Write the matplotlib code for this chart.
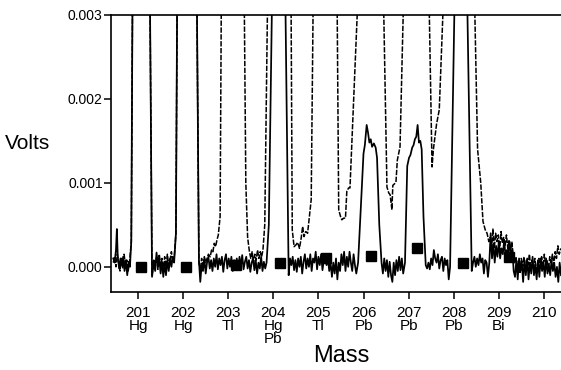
import matplotlib
matplotlib.use("Agg")
import matplotlib.pyplot as plt
import numpy as np

# ---- data (mass, volts x 1e-3) ----
solid_trace = [
    (200.45, 0.10), (200.48, 0.05), (200.51, 0.20), (200.53, 0.45), (200.55, 0.12), (200.58, -0.02),
    (200.61, 0.10), (200.64, 0.02), (200.67, 0.12), (200.70, -0.05), (200.73, 0.08), (200.76, -0.10),
    (200.79, 0.06), (200.82, 0.00),
    (200.85, 0.30), (200.88, 3.50), (201.26, 3.50), (201.31, -0.12),
    (201.35, 0.05), (201.38, -0.05), (201.41, 0.17), (201.44, 0.02), (201.47, 0.10), (201.50, -0.08),
    (201.53, 0.06), (201.56, -0.12), (201.59, 0.04), (201.62, -0.10), (201.65, 0.08), (201.68, -0.05),
    (201.71, 0.10), (201.74, 0.00), (201.77, 0.12), (201.80, 0.05),
    (201.84, 0.40), (201.87, 3.50), (202.30, 3.50), (202.35, 0.08),
    (202.38, -0.18), (202.41, 0.02), (202.44, -0.05), (202.47, 0.10), (202.50, -0.08), (202.53, 0.05),
    (202.56, 0.12), (202.59, -0.02), (202.62, 0.08), (202.65, -0.05), (202.68, 0.10), (202.71, 0.00),
    (202.74, 0.15), (202.77, -0.03), (202.80, 0.10), (202.83, 0.02), (202.86, 0.12), (202.89, -0.06),
    (202.92, 0.08), (202.95, 0.15), (202.98, -0.02), (203.01, 0.10), (203.04, 0.00), (203.07, 0.12),
    (203.10, -0.05), (203.13, 0.08), (203.16, 0.02), (203.19, 0.10), (203.22, -0.04), (203.25, 0.12),
    (203.28, 0.00), (203.31, 0.14), (203.34, -0.03), (203.37, 0.06), (203.40, 0.12), (203.43, -0.02),
    (203.46, 0.08), (203.49, -0.06), (203.52, 0.05), (203.55, 0.10), (203.58, -0.04), (203.61, 0.08),
    (203.64, -0.08), (203.67, 0.05), (203.70, -0.02), (203.73, 0.12), (203.76, -0.05), (203.79, 0.06),
    (203.82, -0.02), (203.85, 0.05),
    (203.90, 0.50), (203.98, 3.50), (204.26, 3.50), (204.34, -0.10),
    (204.37, 0.10), (204.40, 0.02), (204.43, 0.12), (204.46, -0.04), (204.49, 0.08), (204.52, -0.06),
    (204.55, 0.10), (204.58, 0.00), (204.61, 0.12), (204.64, -0.08), (204.67, 0.06), (204.70, 0.15),
    (204.73, -0.02), (204.76, 0.10), (204.79, 0.00), (204.82, 0.15), (204.85, -0.05), (204.88, 0.10),
    (204.91, 0.05), (204.94, 0.18), (204.97, -0.03), (205.00, 0.12), (205.03, 0.02), (205.06, 0.15),
    (205.09, -0.04), (205.12, 0.08), (205.15, 0.12), (205.18, 0.02), (205.21, 0.10), (205.24, -0.05),
    (205.27, 0.05), (205.30, -0.12), (205.33, 0.05), (205.36, -0.08), (205.39, 0.10), (205.42, -0.15),
    (205.45, 0.05), (205.48, -0.05), (205.51, 0.15), (205.54, 0.02), (205.57, 0.18), (205.60, -0.05),
    (205.63, 0.12), (205.66, 0.00), (205.69, 0.18), (205.72, 0.05), (205.75, -0.05), (205.78, 0.15),
    (205.81, 0.02), (205.84, -0.08),
    (205.88, 0.05), (205.95, 0.80), (206.00, 1.35), (206.03, 1.45), (206.07, 1.69), (206.10, 1.60),
    (206.13, 1.48), (206.16, 1.52), (206.19, 1.43), (206.23, 1.47), (206.27, 1.42), (206.30, 1.30),
    (206.35, 0.50), (206.40, 0.05),
    (206.43, -0.08), (206.46, 0.10), (206.49, -0.05), (206.52, 0.08), (206.55, -0.12), (206.58, 0.06),
    (206.61, -0.10), (206.64, -0.18), (206.67, 0.05), (206.70, -0.10), (206.73, 0.08), (206.76, -0.05),
    (206.79, 0.12), (206.82, -0.04), (206.85, 0.10), (206.88, -0.08), (206.92, 0.05),
    (206.97, 1.20), (207.01, 1.30), (207.04, 1.33), (207.08, 1.42), (207.11, 1.45), (207.14, 1.52),
    (207.17, 1.55), (207.20, 1.69), (207.23, 1.48), (207.26, 1.50), (207.29, 1.40), (207.33, 0.60),
    (207.38, 0.02),
    (207.41, -0.02), (207.44, 0.05), (207.47, -0.03), (207.50, 0.10), (207.53, 0.02), (207.56, 0.20),
    (207.59, 0.10), (207.62, 0.05), (207.65, 0.15), (207.68, -0.02), (207.71, 0.08), (207.74, 0.12),
    (207.77, -0.05), (207.80, 0.10), (207.83, 0.02), (207.86, 0.08), (207.89, -0.15), (207.92, 0.00),
    (208.03, 3.50), (208.29, 3.50), (208.40, -0.05),
    (208.43, 0.05), (208.46, 0.12), (208.49, 0.00), (208.52, 0.10), (208.55, 0.02), (208.58, 0.15),
    (208.61, 0.05), (208.64, 0.10), (208.67, -0.08), (208.70, 0.08), (208.73, 0.05), (208.76, -0.12),
    (208.79, 0.05), (208.82, 0.40), (208.85, 0.10), (208.88, 0.28), (208.91, 0.05), (208.94, 0.25),
    (208.97, 0.12), (209.00, 0.30), (209.03, 0.10), (209.06, 0.22), (209.09, 0.15), (209.12, 0.32),
    (209.15, 0.12), (209.18, 0.20), (209.21, 0.18), (209.24, 0.30), (209.27, 0.10), (209.30, 0.22),
    (209.33, -0.05), (209.36, -0.12), (209.39, 0.08), (209.42, -0.15), (209.45, 0.10), (209.48, -0.05),
    (209.51, 0.05), (209.54, -0.18), (209.57, 0.08), (209.60, -0.10), (209.63, 0.10), (209.66, -0.15),
    (209.69, 0.05), (209.72, -0.08), (209.75, 0.12), (209.78, -0.10), (209.81, 0.02), (209.84, -0.15),
    (209.87, 0.08), (209.90, -0.12), (209.93, 0.10), (209.96, -0.05), (209.99, 0.05), (210.02, -0.12),
    (210.05, 0.10), (210.08, -0.08), (210.11, 0.02), (210.14, -0.10), (210.17, 0.08), (210.20, -0.05),
    (210.23, 0.05), (210.26, -0.12), (210.29, 0.00), (210.32, -0.18), (210.35, 0.05), (210.38, -0.10),
]

dashed_trace = [
    (200.45, 0.05), (200.48, 0.12), (200.51, 0.00), (200.54, 0.15), (200.57, 0.05), (200.60, -0.05),
    (200.63, 0.10), (200.66, -0.02), (200.69, 0.15), (200.72, 0.02), (200.75, 0.08), (200.78, -0.05),
    (200.81, 0.05),
    (200.85, 0.30), (200.88, 3.50), (201.26, 3.50), (201.31, -0.10),
    (201.35, 0.08), (201.38, 0.00), (201.41, 0.12), (201.44, -0.03), (201.47, 0.15), (201.50, 0.02),
    (201.53, 0.10), (201.56, -0.05), (201.59, 0.12), (201.62, 0.00), (201.65, 0.15), (201.68, 0.02),
    (201.71, 0.08), (201.74, 0.18), (201.77, 0.05), (201.80, 0.10),
    (201.84, 0.40), (201.87, 3.50), (202.30, 3.50), (202.35, 0.05),
    (202.38, -0.05), (202.41, 0.10), (202.44, 0.00), (202.47, 0.12), (202.50, 0.05), (202.53, 0.10),
    (202.56, 0.15), (202.60, 0.12), (202.63, 0.20), (202.66, 0.18), (202.69, 0.28), (202.72, 0.24),
    (202.75, 0.32), (202.78, 0.38), (202.82, 0.60),
    (202.85, 3.50), (203.35, 3.50), (203.39, 1.00), (203.43, 0.35), (203.47, 0.18),
    (203.50, 0.10), (203.53, 0.18), (203.56, 0.05), (203.59, 0.15), (203.62, 0.08), (203.65, 0.20),
    (203.68, 0.10), (203.71, 0.18), (203.74, 0.12), (203.77, 0.20), (203.81, 0.50),
    (203.88, 3.50), (204.39, 3.50), (204.42, 0.44), (204.46, 0.24), (204.50, 0.26), (204.54, 0.29),
    (204.58, 0.22), (204.62, 0.35), (204.65, 0.48), (204.68, 0.36), (204.72, 0.42), (204.76, 0.40),
    (204.80, 0.60), (204.84, 0.80),
    (204.89, 3.50), (205.41, 3.50), (205.45, 0.68), (205.49, 0.60), (205.52, 0.56), (205.56, 0.58),
    (205.60, 0.58), (205.63, 0.90), (205.67, 0.94), (205.70, 0.94), (205.86, 3.00),
    (205.88, 3.50), (206.44, 3.50), (206.45, 3.00), (206.52, 0.95), (206.56, 0.88), (206.59, 0.86),
    (206.63, 0.68), (206.65, 0.97), (206.69, 0.99), (206.72, 1.01), (206.75, 1.27), (206.78, 1.35),
    (206.81, 1.43), (206.88, 3.00),
    (206.89, 3.50), (207.45, 3.50), (207.46, 3.00), (207.52, 1.19), (207.55, 1.40), (207.62, 1.70),
    (207.68, 1.87), (207.76, 3.00),
    (207.77, 3.50), (208.46, 3.50), (208.47, 3.00), (208.53, 1.40), (208.60, 1.00), (208.65, 0.54),
    (208.70, 0.44), (208.74, 0.40), (208.78, 0.30), (208.81, 0.35), (208.84, 0.20), (208.87, 0.45),
    (208.90, 0.22), (208.93, 0.40), (208.96, 0.30), (208.99, 0.38), (209.02, 0.20), (209.05, 0.42),
    (209.08, 0.28), (209.11, 0.35), (209.14, 0.25), (209.17, 0.38), (209.20, 0.22), (209.23, 0.32),
    (209.26, 0.18), (209.29, 0.30), (209.32, 0.10), (209.35, 0.05), (209.38, 0.12), (209.41, -0.02),
    (209.44, 0.08), (209.47, -0.08), (209.50, 0.10), (209.53, 0.00), (209.56, 0.12), (209.59, -0.05),
    (209.62, 0.08), (209.65, 0.02), (209.68, 0.15), (209.71, -0.03), (209.74, 0.08), (209.77, 0.00),
    (209.80, 0.10), (209.83, -0.08), (209.86, 0.05), (209.89, 0.10), (209.92, -0.02), (209.95, 0.12),
    (209.98, 0.00), (210.01, 0.15), (210.04, 0.02), (210.07, 0.08), (210.10, -0.05), (210.13, 0.12),
    (210.16, 0.05), (210.19, 0.15), (210.22, 0.02), (210.25, 0.18), (210.28, 0.10), (210.31, 0.25),
    (210.34, 0.15), (210.38, 0.22),
]

square_mass = [201.07, 202.06, 203.17, 204.15, 205.17, 206.17, 207.18, 208.21, 209.23]
square_volts = [0.0, 0.0, 0.00002, 0.00005, 0.00011, 0.00013, 0.00023, 0.00005, 0.00012]

tick_mass = [201, 202, 203, 204, 205, 206, 207, 208, 209, 210]
tick_labels = ["201\nHg", "202\nHg", "203\nTl", "204\nHg\nPb", "205\nTl",
               "206\nPb", "207\nPb", "208\nPb", "209\nBi", "210"]
ytick_vals = [0.000, 0.001, 0.002, 0.003]

plt.rcParams['font.family'] = ['Liberation Sans', 'DejaVu Sans']

fig = plt.figure(figsize=(5.61, 3.70), dpi=100)
ax = fig.add_axes([111/561, 78/370, 1 - 111/561, 277/370])

sm = [p[0] for p in solid_trace]
sv = [p[1] * 1e-3 for p in solid_trace]
dm = [p[0] for p in dashed_trace]
dv = [p[1] * 1e-3 for p in dashed_trace]

ax.plot(dm, dv, color='black', lw=1.1, dashes=(3.5, 1.0))
ax.plot(sm, sv, color='black', lw=1.25)
ax.plot(square_mass, square_volts, 's', color='black', ms=7, zorder=5)

ax.set_xlim(200.40, 210.38)
ax.set_ylim(-0.0003, 0.003)

ax.set_xticks(tick_mass)
ax.set_xticklabels(tick_labels, fontsize=11, linespacing=0.92)
ax.set_yticks(ytick_vals)
ax.set_yticklabels([f"{v:.3f}" for v in ytick_vals], fontsize=10)
ax.tick_params(axis='both', direction='out', length=5, width=1.1, colors='black')
ax.tick_params(axis='x', pad=5)
ax.tick_params(axis='y', pad=1)

for side in ['left', 'bottom', 'top']:
    ax.spines[side].set_linewidth(1.2)
ax.spines['right'].set_visible(False)

fig.text(5/561, 1 - 143/370, 'Volts', fontsize=15, ha='left', va='center')
fig.text(341/561, 1 - 356/370, 'Mass', fontsize=17, ha='center', va='center')

fig.savefig('out.png', dpi=100)
